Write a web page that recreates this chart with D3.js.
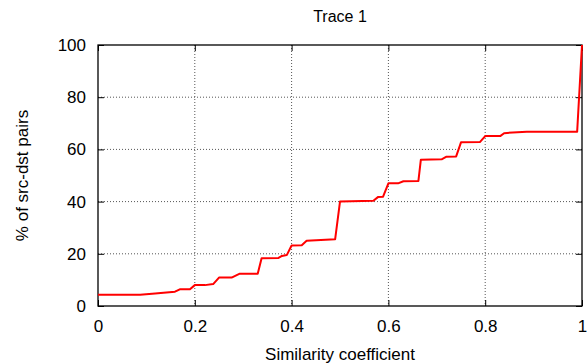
<!DOCTYPE html>
<html>
<head>
<meta charset="utf-8">
<script src="https://cdn.jsdelivr.net/npm/d3@7/dist/d3.min.js"></script>
<style>
  html, body { margin: 0; padding: 0; background: #fff; }
  svg { display: block; }
  text { font-family: "Liberation Sans", Arial, Helvetica, sans-serif; fill: #000; }
</style>
</head>
<body>
<script>
// Data
const similarity = [0, 0.087, 0.118, 0.159, 0.169, 0.190, 0.200, 0.221, 0.238, 0.250, 0.276, 0.293, 0.330, 0.338, 0.373, 0.380, 0.390, 0.400, 0.421, 0.431, 0.490, 0.500, 0.569, 0.579, 0.589, 0.600, 0.620, 0.631, 0.662, 0.667, 0.710, 0.720, 0.740, 0.750, 0.789, 0.800, 0.831, 0.839, 0.857, 0.886, 0.990, 1.0];
const pctPairs   = [4.3, 4.3, 4.8, 5.5, 6.4, 6.4, 8.0, 8.0, 8.4, 10.9, 10.9, 12.4, 12.4, 18.3, 18.4, 19.2, 19.5, 23.2, 23.3, 25.0, 25.6, 40.0, 40.3, 41.8, 41.9, 47.0, 47.0, 47.8, 47.9, 56.0, 56.2, 57.2, 57.3, 62.7, 62.8, 65.1, 65.1, 66.2, 66.5, 66.8, 66.8, 100];
const xTicks = [0, 0.2, 0.4, 0.6, 0.8, 1];
const yTicks = [0, 20, 40, 60, 80, 100];
const xTickLabels = ["0", "0.2", "0.4", "0.6", "0.8", "1"];
const yTickLabels = ["0", "20", "40", "60", "80", "100"];
const titleText = "Trace 1";
const xLabel = "Similarity coefficient";
const yLabel = "% of src-dst pairs";

const W = 587, H = 364;
const L = 98, R = 582, T = 45, B = 306;

const svg = d3.select("body").append("svg").attr("width", W).attr("height", H);
const x = d3.scaleLinear().domain([0, 1]).range([L, R]);
const y = d3.scaleLinear().domain([0, 100]).range([B, T]);

// grid
const grid = svg.append("g");
grid.selectAll(".gx").data(xTicks.slice(1, -1)).enter().append("line")
  .attr("x1", d => x(d)).attr("x2", d => x(d)).attr("y1", T).attr("y2", B)
  .attr("stroke", "#555").attr("stroke-width", 1).attr("stroke-dasharray", "1,2");
grid.selectAll(".gy").data(yTicks.slice(1, -1)).enter().append("line")
  .attr("y1", d => y(d)).attr("y2", d => y(d)).attr("x1", L).attr("x2", R)
  .attr("stroke", "#555").attr("stroke-width", 1).attr("stroke-dasharray", "1,2");

// inward ticks on all four sides
const tickLen = 6;
const axB = d3.axisBottom(x).tickValues(xTicks).tickFormat((d, i) => xTickLabels[i]).tickSizeInner(-tickLen).tickSizeOuter(0).tickPadding(14);
const axL = d3.axisLeft(y).tickValues(yTicks).tickFormat((d, i) => yTickLabels[i]).tickSizeInner(-tickLen).tickSizeOuter(0).tickPadding(12);
const axT = d3.axisTop(x).tickValues(xTicks).tickFormat("").tickSizeInner(-tickLen).tickSizeOuter(0);
const axR = d3.axisRight(y).tickValues(yTicks).tickFormat("").tickSizeInner(-tickLen).tickSizeOuter(0);

function style(g) {
  g.select(".domain").remove();
  g.selectAll("line").attr("stroke", "#000").attr("stroke-width", 1);
  g.selectAll("text").style("font-size", "17px").attr("fill", "#000")
    .style("font-family", '"Liberation Sans", Arial, sans-serif');
}
svg.append("g").attr("transform", `translate(0,${B})`).call(axB).call(style);
svg.append("g").attr("transform", `translate(${L},0)`).call(axL).call(style);
svg.append("g").attr("transform", `translate(0,${T})`).call(axT).call(style);
svg.append("g").attr("transform", `translate(${R},0)`).call(axR).call(style);

// frame
svg.append("rect").attr("x", L).attr("y", T).attr("width", R - L).attr("height", B - T)
  .attr("fill", "none").attr("stroke", "#000").attr("stroke-width", 1.3);

// data line
const line = d3.line().x((d, i) => x(similarity[i])).y(d => y(d));
svg.append("path").datum(pctPairs).attr("d", line)
  .attr("fill", "none").attr("stroke", "#ff0000").attr("stroke-width", 2).attr("stroke-linejoin", "round");

// titles
svg.append("text").attr("x", 340).attr("y", 22).attr("text-anchor", "middle").style("font-size", "16px").text(titleText);
svg.append("text").attr("x", 340).attr("y", 360).attr("text-anchor", "middle").style("font-size", "17px").text(xLabel);
svg.append("text").attr("transform", `translate(28,${(T + B) / 2}) rotate(-90)`).attr("text-anchor", "middle").style("font-size", "17px").text(yLabel);
</script>
</body>
</html>
